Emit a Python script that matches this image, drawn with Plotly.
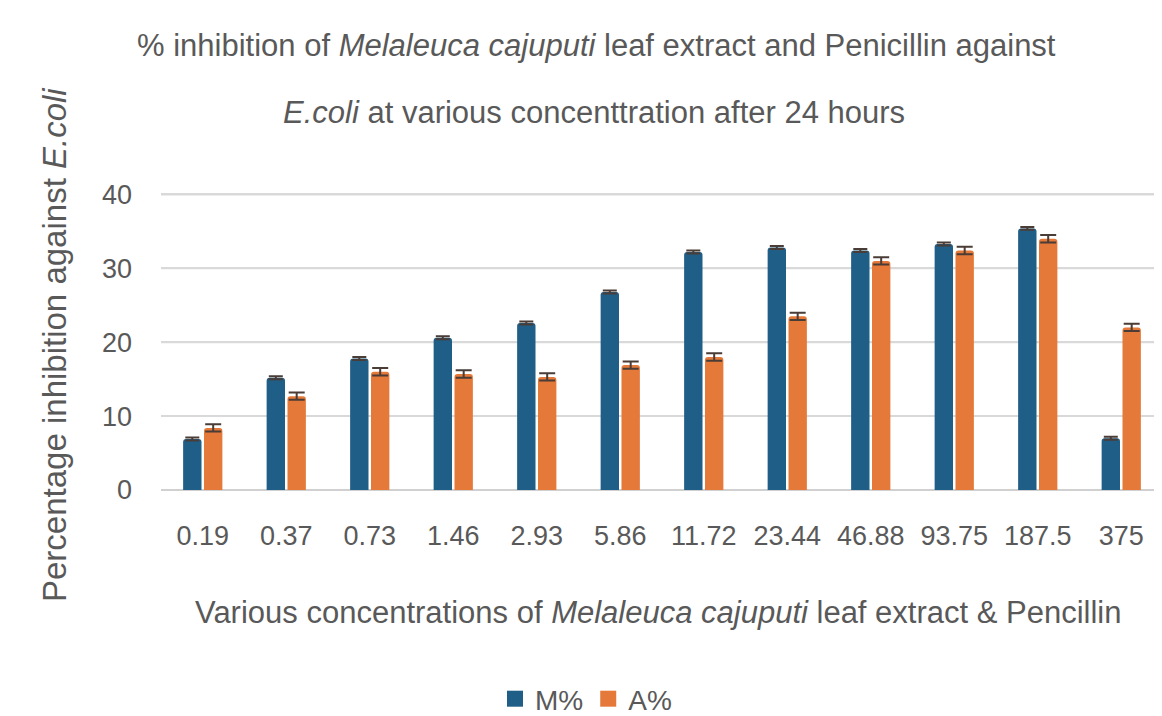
import plotly.graph_objects as go

categories = ["0.19", "0.37", "0.73", "1.46", "2.93", "5.86", "11.72", "23.44", "46.88", "93.75", "187.5", "375"]
m_values = [6.9, 15.2, 17.8, 20.6, 22.6, 26.8, 32.2, 32.8, 32.4, 33.3, 35.4, 7.0]
a_values = [8.4, 12.7, 16.0, 15.7, 15.3, 16.9, 18.0, 23.5, 31.0, 32.4, 34.0, 22.0]
m_err = [0.2] * 12
a_err = [0.5] * 12
y_ticks = [0, 10, 20, 30, 40]
series_names = ["M%", "A%"]

BLUE = "#1F5E86"
ORANGE = "#E5793A"
ERR = "#4a3c36"
GRAY = "#595959"
GRID = "#d9d9d9"
SANS = "Liberation Sans, Arial, sans-serif"

W, H = 1162, 716
L, R, T, B = 153, 7, 179, 234
pw, ph = W - L - R, H - T - B

def px_x(x):
    return (x - L) / pw

def px_y(y):
    return (H - B - y) / ph

fig = go.Figure()
fig.add_trace(go.Bar(
    x=categories, y=m_values, name=series_names[0], showlegend=False,
    marker=dict(color=BLUE, line=dict(width=0)),
    error_y=dict(type="data", array=m_err, visible=True, color=ERR, thickness=2, width=7),
))
fig.add_trace(go.Bar(
    x=categories, y=a_values, name=series_names[1], showlegend=False,
    marker=dict(color=ORANGE, line=dict(width=0)),
    error_y=dict(type="data", array=a_err, visible=True, color=ERR, thickness=2, width=8),
))
# legend entries (square swatches)
for nm, col in zip(series_names, [BLUE, ORANGE]):
    fig.add_trace(go.Scatter(x=[None], y=[None], mode="markers", name=nm,
                             marker=dict(symbol="square", size=16, color=col, line=dict(width=0))))

# ensure every horizontal gridline (incl. the top one) is drawn
for v in y_ticks[1:]:
    fig.add_shape(type="line", xref="paper", x0=0, x1=1, yref="y", y0=v, y1=v,
                  line=dict(color=GRID, width=2), layer="below")

fig.update_layout(
    width=W, height=H,
    margin=dict(l=L, r=R, t=T, b=B, autoexpand=False),
    paper_bgcolor="white", plot_bgcolor="white",
    barmode="group", bargap=0.5, bargroupgap=0.12, barcornerradius=3,
    showlegend=True,
    legend=dict(orientation="h", x=px_x(578), y=px_y(691), xanchor="center", yanchor="middle",
                font=dict(family=SANS, size=28, color=GRAY), itemwidth=30, tracegroupgap=0,
                bgcolor="rgba(0,0,0,0)"),
    font=dict(family=SANS, color=GRAY),
)
fig.update_xaxes(
    type="category", showgrid=False, showline=False, zeroline=False,
    tickfont=dict(family=SANS, size=27, color=GRAY),
    ticks="", ticklabelstandoff=27,
)
fig.update_yaxes(
    range=[0, 41], tickvals=y_ticks, showgrid=True, gridcolor=GRID, gridwidth=2,
    zeroline=True, zerolinecolor="#d0d0d0", zerolinewidth=2, showline=False,
    tickfont=dict(family=SANS, size=27, color=GRAY), ticks="", ticklabelstandoff=28,
)

ann = [
    dict(text="% inhibition of <i>Melaleuca cajuputi</i> leaf extract and Penicillin against",
         x=px_x(588), y=px_y(37), font=dict(family=SANS, size=31, color=GRAY)),
    dict(text="<i>E.coli</i> at various concenttration after 24 hours",
         x=px_x(586), y=px_y(105), font=dict(family=SANS, size=31, color=GRAY)),
    dict(text="Various concentrations of <i>Melaleuca cajuputi</i> leaf extract &amp; Pencillin",
         x=px_x(650), y=px_y(604), font=dict(family=SANS, size=31, color=GRAY)),
    dict(text="Percentage inhibition against <i>E.coli</i>", textangle=-90,
         x=px_x(46), y=px_y(337), font=dict(family=SANS, size=33, color=GRAY)),
]
for a in ann:
    a.update(xref="paper", yref="paper", showarrow=False, xanchor="center", yanchor="middle")
    fig.add_annotation(**a)

fig.write_html("out.html")
